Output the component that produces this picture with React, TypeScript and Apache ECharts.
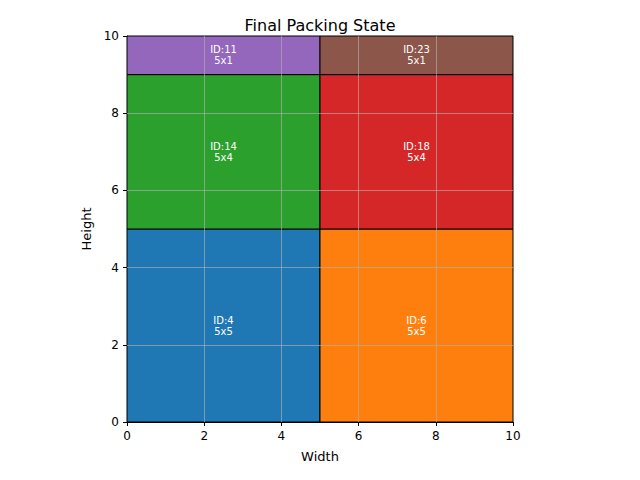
import { useEffect, useRef } from 'react'
import * as echarts from 'echarts'

const ids = [4, 6, 14, 18, 11, 23]
const xs = [0, 5, 0, 5, 0, 5]
const ys = [0, 0, 5, 5, 9, 9]
const widths = [5, 5, 5, 5, 5, 5]
const heights = [5, 5, 4, 4, 1, 1]
const colors = ['#1f77b4', '#ff7f0e', '#2ca02c', '#d62728', '#9467bd', '#8c564b']
const gridTicks = [2, 4, 6, 8]

export default function App() {
  const ref = useRef<HTMLDivElement | null>(null)

  useEffect(() => {
    document.body.style.margin = '0'
    if (!ref.current) return
    const chart = echarts.init(ref.current, null, { renderer: 'svg' })
    const rects = ids.map((id, i) => [xs[i], ys[i], widths[i], heights[i], id, colors[i]])
    const gridLine = { color: 'rgba(176,176,176,0.8)', width: 0.8, type: 'solid' }
    chart.setOption({
      animation: false,
      title: {
        text: 'Final Packing State',
        left: 'center',
        top: 12,
        textStyle: { fontFamily: 'DejaVu Sans', fontWeight: 'normal', fontSize: 16, color: '#000' },
      },
      grid: { left: 127, top: 36, width: 386, height: 386 },
      xAxis: {
        type: 'value', min: 0, max: 10, interval: 2,
        name: 'Width', nameLocation: 'middle', nameGap: 28,
        nameTextStyle: { fontFamily: 'DejaVu Sans', fontSize: 13, color: '#000' },
        axisLine: { lineStyle: { color: '#000' } },
        axisTick: { show: true, length: 4, lineStyle: { color: '#000' } },
        axisLabel: { fontFamily: 'DejaVu Sans', fontSize: 12, color: '#000' },
        splitLine: { show: false },
      },
      yAxis: {
        type: 'value', min: 0, max: 10, interval: 2,
        name: 'Height', nameLocation: 'middle', nameGap: 32,
        nameTextStyle: { fontFamily: 'DejaVu Sans', fontSize: 13, color: '#000' },
        axisLine: { lineStyle: { color: '#000' } },
        axisTick: { show: true, length: 4, lineStyle: { color: '#000' } },
        axisLabel: { fontFamily: 'DejaVu Sans', fontSize: 12, color: '#000' },
        splitLine: { show: false },
      },
      series: [
        {
          type: 'custom',
          data: rects,
          z: 2,
          renderItem: (_p: any, api: any) => {
            const x = api.value(0), y = api.value(1), w = api.value(2), h = api.value(3)
            const p0 = api.coord([x, y + h])
            const p1 = api.coord([x + w, y])
            const i = _p.dataIndex
            return {
              type: 'group',
              children: [
                {
                  type: 'rect',
                  shape: { x: p0[0], y: p0[1], width: p1[0] - p0[0], height: p1[1] - p0[1] },
                  style: { fill: colors[i], stroke: '#000', lineWidth: 1 },
                },
                {
                  type: 'text',
                  x: (p0[0] + p1[0]) / 2,
                  y: (p0[1] + p1[1]) / 2,
                  style: {
                    text: `ID:${ids[i]}\n${widths[i]}x${heights[i]}`,
                    fill: '#fff', fontSize: 10, fontFamily: 'DejaVu Sans',
                    align: 'center', verticalAlign: 'middle', lineHeight: 11,
                  },
                  z2: 10,
                },
              ],
            }
          },
        },
        {
          type: 'line',
          data: [],
          z: 3,
          markLine: {
            silent: true,
            symbol: ['none', 'none'],
            label: { show: false },
            lineStyle: gridLine,
            data: [
              ...gridTicks.map((t) => ({ xAxis: t })),
              ...gridTicks.map((t) => ({ yAxis: t })),
            ],
          },
        },
      ],
    })
    return () => chart.dispose()
  }, [])

  return <div ref={ref} style={{ width: 640, height: 480 }} />
}
